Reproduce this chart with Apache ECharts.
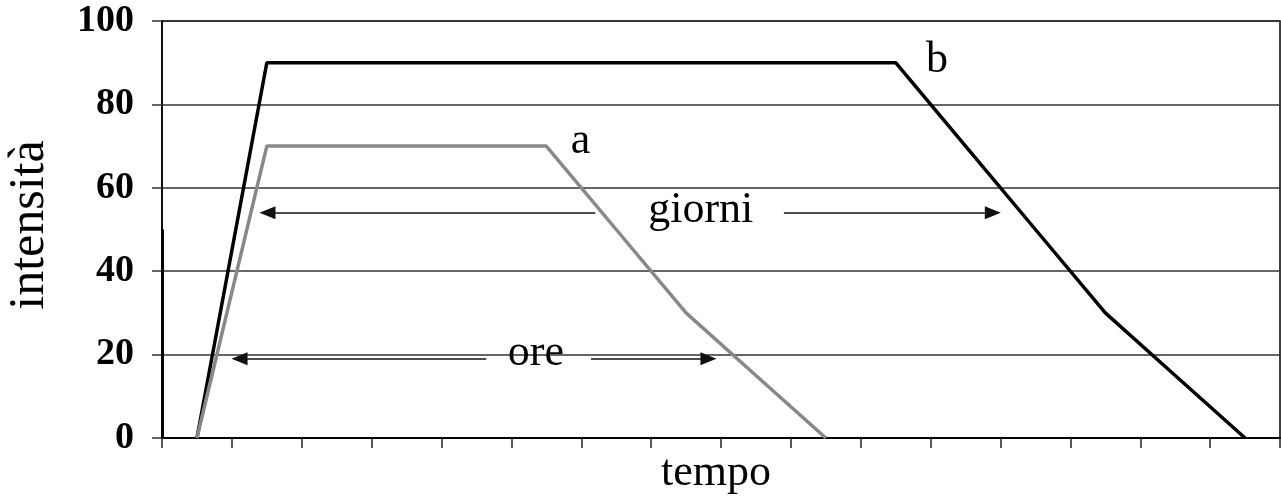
<!DOCTYPE html>
<html>
<head>
<meta charset="utf-8">
<script src="https://cdn.jsdelivr.net/npm/echarts@6/dist/echarts.min.js"></script>
<style>
  html, body { margin: 0; padding: 0; background: #fff; }
  #main { width: 1281px; height: 503px; }
</style>
</head>
<body>
<div id="main"></div>
<script>
  // posizioni sull'asse del tempo (centro di ogni intervallo)
  const tempo = [0.5, 1.5, 2.5, 3.5, 4.5, 5.5, 6.5, 7.5, 8.5, 9.5, 10.5, 11.5, 12.5, 13.5, 14.5, 15.5];
  const serieA = [0, 70, 70, 70, 70, 70, 50, 30, 15, 0];
  const serieB = [0, 90, 90, 90, 90, 90, 90, 90, 90, 90, 90, 70, 50, 30, 15, 0];
  const yTicks = [0, 20, 40, 60, 80, 100];

  // frecce: [da x, a x, y]
  const frecce = [
    [6.2, 1.51, 54], [8.9, 11.89, 54],
    [4.64, 1.11, 19], [6.14, 7.82, 19]
  ];
  // testi: [testo, x, y]
  const testi = [
    ['giorni', 7.71, 54.6],
    ['ore', 5.35, 20.3],
    ['a', 5.99, 71],
    ['b', 11.09, 90.6]
  ];

  const serif = '"Liberation Serif", "Times New Roman", serif';

  const option = {
    animation: false,
    grid: {
      left: 162, right: 1, top: 21, bottom: 65,
      show: true, borderColor: '#000', borderWidth: 1.5
    },
    xAxis: {
      type: 'value', min: 0, max: 16, interval: 1,
      axisLine: { lineStyle: { color: '#000', width: 2 } },
      axisTick: { length: 10, lineStyle: { color: '#222', width: 1.5 } },
      axisLabel: { show: false },
      splitLine: { show: false }
    },
    yAxis: {
      type: 'value',
      min: yTicks[0], max: yTicks[yTicks.length - 1], interval: yTicks[1] - yTicks[0],
      axisLine: { show: true, lineStyle: { color: '#000', width: 1.5 } },
      axisTick: { show: true, length: 10, lineStyle: { color: '#333', width: 1.5 } },
      axisLabel: { fontFamily: serif, fontWeight: 'bold', fontSize: 38, color: '#000', margin: 28 },
      splitLine: { lineStyle: { color: '#333', width: 1.5 } }
    },
    graphic: [
      {
        type: 'text', x: 30, y: 225, rotation: Math.PI / 2,
        style: { text: 'intensità', font: '50px ' + serif, textAlign: 'center', textVerticalAlign: 'middle', fill: '#000' }
      },
      {
        type: 'text', x: 716, y: 473,
        style: { text: 'tempo', font: '44px ' + serif, textAlign: 'center', textVerticalAlign: 'middle', fill: '#000' }
      }
    ],
    series: [
      {
        name: 'b', type: 'line',
        data: serieB.map((v, i) => [tempo[i], v]),
        symbol: 'none',
        lineStyle: { color: '#000', width: 3.5 },
        z: 3
      },
      {
        name: 'a', type: 'line',
        data: serieA.map((v, i) => [tempo[i], v]),
        symbol: 'none',
        lineStyle: { color: '#888', width: 3.5 },
        z: 3,
        markLine: {
          silent: true,
          symbol: ['none', 'triangle'],
          symbolSize: [13, 16],
          label: { show: false },
          lineStyle: { color: '#111', width: 1.5, type: 'solid' },
          data: frecce.map(f => [{ coord: [f[0], f[2]] }, { coord: [f[1], f[2]] }]).concat([
            // tratto più spesso sull'asse sinistro, come nell'originale
            [{ coord: [0, 0], symbol: 'none', lineStyle: { color: '#000', width: 3 } },
             { coord: [0, 50], symbol: 'none' }]
          ])
        },
        markPoint: {
          silent: true,
          symbol: 'circle', symbolSize: 0,
          label: {
            show: true, position: 'inside',
            formatter: p => p.name,
            fontFamily: serif, fontSize: 44, color: '#000'
          },
          data: testi.map(t => ({ name: t[0], coord: [t[1], t[2]] }))
        }
      }
    ]
  };

  const chart = echarts.init(document.getElementById('main'));
  chart.setOption(option);
</script>
</body>
</html>
